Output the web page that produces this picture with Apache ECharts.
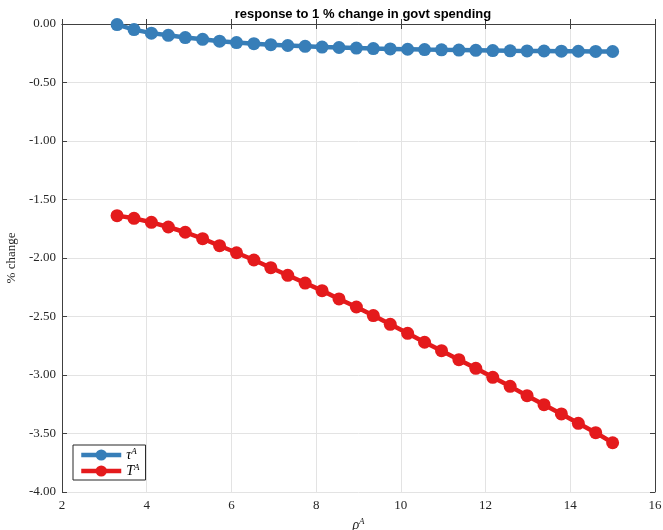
<!DOCTYPE html>
<html>
<head>
<meta charset="utf-8">
<script src="https://cdn.jsdelivr.net/npm/echarts@6/dist/echarts.min.js"></script>
<style>
  html, body { margin: 0; padding: 0; background: #fff; }
  #chart { width: 663px; height: 530px; }
</style>
</head>
<body>
<div id="chart"></div>
<script>
// persistence parameter rho^A
const rhoValues = [3.30, 3.70, 4.11, 4.51, 4.91, 5.32, 5.72, 6.12, 6.53, 6.93,
                   7.33, 7.74, 8.14, 8.54, 8.95, 9.35, 9.75, 10.16, 10.56, 10.96,
                   11.37, 11.77, 12.17, 12.58, 12.98, 13.38, 13.79, 14.19, 14.60, 15.00];

// response of tau^A (%)
const tauResponse = [-0.005, -0.048, -0.078, -0.097, -0.116, -0.131, -0.147, -0.159, -0.168, -0.177,
                     -0.184, -0.191, -0.197, -0.201, -0.206, -0.210, -0.213, -0.216, -0.219, -0.221,
                     -0.223, -0.225, -0.227, -0.229, -0.230, -0.231, -0.232, -0.233, -0.234, -0.235];

// response of T^A (%)
const bigTResponse = [-1.638, -1.661, -1.695, -1.735, -1.780, -1.835, -1.895, -1.955, -2.017, -2.083,
                      -2.148, -2.214, -2.279, -2.350, -2.419, -2.492, -2.567, -2.644, -2.720, -2.792,
                      -2.869, -2.943, -3.020, -3.097, -3.177, -3.254, -3.333, -3.413, -3.493, -3.579];

const xTicks = { min: 2, max: 16, step: 2 };
const yTicks = { min: -4, max: 0, step: 0.5 };

const seriesNames = ['τA', 'TA'];
const seriesColors = ['#377EB8', '#E41A1C'];

const serif = 'Liberation Serif';
const axisColor = '#404040';
const gridColor = '#e3e3e3';

const zip = (xs, ys) => xs.map((x, i) => [x, ys[i]]);

const chart = echarts.init(document.getElementById('chart'), null, { renderer: 'canvas' });

const hiddenAxisCommon = {
  axisLine: { show: true, lineStyle: { color: axisColor, width: 1 } },
  axisTick: { show: true, inside: true, length: 5, lineStyle: { color: axisColor } },
  axisLabel: { show: false },
  splitLine: { show: false }
};

chart.setOption({
  animation: false,
  backgroundColor: '#fff',
  title: {
    text: 'response to 1 % change in govt spending',
    left: 358,
    textAlign: 'center',
    top: 3,
    textStyle: { fontFamily: 'Liberation Sans', fontWeight: 'bold', fontSize: 13, color: '#000' }
  },
  grid: { left: 62, right: 8, top: 24, bottom: 38, containLabel: false, outerBoundsMode: 'none' },
  xAxis: [{
    type: 'value',
    min: xTicks.min, max: xTicks.max, interval: xTicks.step,
    name: '{i|ρ}{s|A}',
    nameLocation: 'middle',
    nameGap: 25,
    nameTextStyle: {
      rich: {
        i: { fontFamily: serif, fontStyle: 'italic', fontSize: 14, color: '#262626', lineHeight: 16 },
        s: { fontFamily: serif, fontStyle: 'italic', fontSize: 9, color: '#262626', verticalAlign: 'top', lineHeight: 10 }
      }
    },
    axisLine: { show: true, lineStyle: { color: axisColor, width: 1 } },
    axisTick: { show: true, inside: true, length: 5, lineStyle: { color: axisColor } },
    axisLabel: { fontFamily: serif, fontSize: 13, color: '#262626', margin: 7 },
    splitLine: { show: true, lineStyle: { color: gridColor, width: 1 } }
  }, Object.assign({
    type: 'value', position: 'top',
    min: xTicks.min, max: xTicks.max, interval: xTicks.step
  }, hiddenAxisCommon)],
  yAxis: [{
    type: 'value',
    min: yTicks.min, max: yTicks.max, interval: yTicks.step,
    name: '% change',
    nameLocation: 'middle',
    nameGap: 41,
    nameTextStyle: { fontFamily: serif, fontSize: 13, color: '#262626' },
    axisLine: { show: true, lineStyle: { color: axisColor, width: 1 } },
    axisTick: { show: true, inside: true, length: 5, lineStyle: { color: axisColor } },
    axisLabel: {
      fontFamily: serif, fontSize: 13, color: '#262626', margin: 6,
      formatter: v => v.toFixed(2)
    },
    splitLine: { show: true, lineStyle: { color: gridColor, width: 1 } }
  }, Object.assign({
    type: 'value', position: 'right',
    min: yTicks.min, max: yTicks.max, interval: yTicks.step
  }, hiddenAxisCommon)],
  legend: {
    left: 73,
    top: 445,
    orient: 'vertical',
    backgroundColor: '#fff',
    borderColor: '#262626',
    borderWidth: 1,
    borderRadius: 0,
    padding: [2, 6, 2, 6],
    itemGap: 1,
    itemWidth: 40,
    itemHeight: 14,
    lineStyle: { width: 4.5 },
    data: seriesNames,
    formatter: name => '{v|' + name.slice(0, -1) + '}{s|' + name.slice(-1) + '}',
    textStyle: {
      rich: {
        v: { fontFamily: serif, fontStyle: 'italic', fontSize: 14, color: '#000', lineHeight: 16 },
        s: { fontFamily: serif, fontStyle: 'italic', fontSize: 9, color: '#000', verticalAlign: 'top', lineHeight: 10 }
      }
    }
  },
  series: [{
    name: seriesNames[0],
    type: 'line',
    data: zip(rhoValues, tauResponse),
    symbol: 'circle',
    symbolSize: 13,
    color: seriesColors[0],
    lineStyle: { width: 4.5, color: seriesColors[0] },
    itemStyle: { color: seriesColors[0] },
    emphasis: { disabled: true },
    z: 3
  }, {
    name: seriesNames[1],
    type: 'line',
    data: zip(rhoValues, bigTResponse),
    symbol: 'circle',
    symbolSize: 13,
    color: seriesColors[1],
    lineStyle: { width: 4.5, color: seriesColors[1] },
    itemStyle: { color: seriesColors[1] },
    emphasis: { disabled: true },
    z: 3
  }]
});
</script>
</body>
</html>
